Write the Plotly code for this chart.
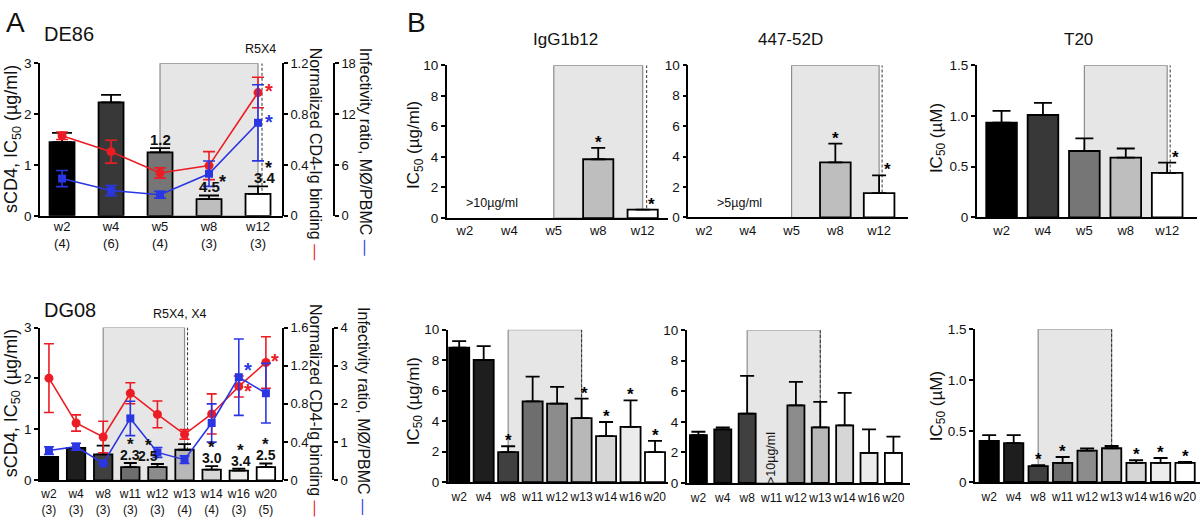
import plotly.graph_objects as go

W, H = 1200, 522
FONT = "Liberation Sans, Arial, Helvetica, sans-serif"
RED = "#ec1c24"
BLUE = "#2b36e3"
SHADE = "#e6e6e6"
SHADE_LINE = "#8c8c8c"

# ---------------- data ----------------
# DE86 (top row)
de86_weeks = ["w2", "w4", "w5", "w8", "w12"]
de86_n = ["(4)", "(6)", "(4)", "(3)", "(3)"]
de86_colors = ["#000000", "#383838", "#767676", "#bebebe", "#ffffff"]
de86_shade = ("w5", "w12")
de86_scd4 = [1.45, 2.23, 1.25, 0.33, 0.43]
de86_scd4_err = [0.18, 0.15, 0.08, 0.07, 0.15]
de86_scd4_fold = ["", "", "1.2", "4.5", "3.4"]
de86_scd4_sig = [False, False, False, True, True]
de86_cd4ig = [0.63, 0.505, 0.337, 0.395, 0.97]
de86_cd4ig_err = [0.03, 0.09, 0.04, 0.11, 0.12]
de86_infect = [4.4, 2.98, 2.49, 4.97, 10.98]
de86_infect_err = [0.95, 0.6, 0.4, 1.5, 4.5]
de86_igg = [None, None, None, 3.85, 0.55]
de86_igg_err = [None, None, None, 0.75, 0.0]
de86_igg_sig = [False, False, False, True, True]
de86_447 = [None, None, None, 3.62, 1.6]
de86_447_err = [None, None, None, 1.23, 1.17]
de86_447_sig = [False, False, False, True, True]
de86_t20 = [0.935, 1.01, 0.655, 0.59, 0.44]
de86_t20_err = [0.115, 0.12, 0.125, 0.09, 0.10]
de86_t20_sig = [False, False, False, False, True]

# DG08 (bottom row)
dg08_weeks = ["w2", "w4", "w8", "w11", "w12", "w13", "w14", "w16", "w20"]
dg08_n = ["(3)", "(3)", "(3)", "(3)", "(3)", "(4)", "(4)", "(3)", "(5)"]
dg08_colors = ["#000000", "#1e1e1e", "#404040", "#6e6e6e", "#8c8c8c",
               "#b8b8b8", "#d6d6d6", "#ececec", "#ffffff"]
dg08_shade = ("w8", "w13")
dg08_scd4 = [0.46, 0.635, 0.51, 0.26, 0.26, 0.60, 0.21, 0.19, 0.26]
dg08_scd4_err = [0, 0, 0.17, 0.08, 0.06, 0.11, 0.07, 0.04, 0.07]
dg08_scd4_fold = ["", "", "", "2.3", "2.5", "", "3.0", "3.4", "2.5"]
dg08_scd4_sig = [False, False, False, True, True, False, True, True, True]
dg08_cd4ig = [1.07, 0.60, 0.454, 0.912, 0.69, 0.481, 0.695, 0.983, 1.234]
dg08_cd4ig_err = [0.36, 0.085, 0.165, 0.11, 0.14, 0.05, 0.21, 0.11, 0.27]
dg08_infect = [0.78, 0.88, 0.44, 1.62, 0.73, 0.54, 1.5, 2.7, 2.28]
dg08_infect_err = [0.1, 0.09, 0.0, 0.45, 0.13, 0.1, 0.5, 1.0, 0.78]
dg08_igg = [8.83, 8.02, 1.97, 5.3, 5.16, 4.2, 3.03, 3.63, 1.97]
dg08_igg_err = [0.42, 0.9, 0.39, 1.62, 1.1, 1.28, 0.92, 1.74, 0.74]
dg08_igg_sig = [False, False, True, False, False, True, True, True, True]
dg08_447 = [3.13, 3.5, 4.53, None, 5.08, 3.64, 3.77, 1.97, 1.97]
dg08_447_err = [0.22, 0.14, 2.47, None, 1.53, 1.66, 2.13, 1.53, 1.06]
dg08_447_sig = [False] * 9
dg08_t20 = [0.403, 0.381, 0.155, 0.188, 0.308, 0.331, 0.188, 0.188, 0.188]
dg08_t20_err = [0.057, 0.079, 0.01, 0.057, 0.022, 0.022, 0.025, 0.047, 0.009]
dg08_t20_sig = [False, False, True, True, False, False, True, True, True]

# ---------------- helpers ----------------
layout = {}
traces = []
annotations = []
shapes = []

XSTYLE = dict(showline=True, linecolor="black", linewidth=1.6, ticks="",
              showgrid=False, zeroline=False, fixedrange=True, tickangle=0)
YSTYLE = dict(showline=True, linecolor="black", linewidth=1.6, ticks="outside",
              ticklen=4, tickwidth=1.6, tickcolor="black", showgrid=False,
              zeroline=False, fixedrange=True,
              tickfont=dict(size=13.5, color="#111", family=FONT))
YSTYLE_R = dict(YSTYLE, tickfont=dict(size=13, color="#111", family=FONT))


def nm(i):
    return "" if i == 1 else str(i)


def txt(x, y, text, size=13, xref="paper", yref="paper", angle=0,
        xanchor="center", yanchor="middle", dx=0, dy=0, color="#111"):
    if xref == "paper":
        x = x / W
    if yref == "paper":
        y = 1 - y / H
    annotations.append(dict(x=x, y=y, xref=xref, yref=yref, text=text,
                            showarrow=False, textangle=angle, xanchor=xanchor,
                            yanchor=yanchor, xshift=dx, yshift=dy,
                            font=dict(size=size, color=color, family=FONT)))


def bar_panel(xi, yi, xpx, ypx, xr, cats, ticktext, tfs, vals, errs, colors,
              bw, capw, yr, ytv, ytt, shade, dash_dx, sig, star_dy=-6,
              star_dx=None, standoff=0):
    n = len(cats)
    pos = list(range(n))
    xs, ys = "x" + nm(xi), "y" + nm(yi)
    layout["xaxis" + nm(xi)] = dict(domain=[xpx[0] / W, xpx[1] / W], range=xr,
                                    tickvals=pos, ticktext=ticktext, anchor=ys,
                                    tickfont=dict(size=tfs, color="#111", family=FONT),
                                    ticklabelstandoff=standoff, **XSTYLE)
    layout["yaxis" + nm(yi)] = dict(domain=[1 - ypx[1] / H, 1 - ypx[0] / H],
                                    range=yr, tickvals=ytv, ticktext=ytt,
                                    anchor=xs, **YSTYLE)
    traces.append(go.Bar(x=pos, y=vals, width=bw,
                         marker=dict(color=colors, line=dict(color="black", width=1.8)),
                         error_y=dict(type="data", symmetric=False, array=errs,
                                      arrayminus=[0] * n, color="black",
                                      thickness=1.8, width=capw),
                         xaxis=xs, yaxis=ys, hoverinfo="skip"))
    i0, i1 = cats.index(shade[0]), cats.index(shade[1])
    shapes.append(dict(type="rect", xref=xs, yref=ys, x0=i0, x1=i1, y0=0,
                       y1=yr[1], fillcolor=SHADE,
                       line=dict(color=SHADE_LINE, width=1.2), layer="below"))
    shapes.append(dict(type="line", xref=xs, yref=ys, xsizemode="pixel",
                       xanchor=i1, x0=dash_dx, x1=dash_dx, y0=0, y1=yr[1],
                       line=dict(color="#333", width=1, dash="3px,2px"),
                       layer="below"))
    for i in range(n):
        if sig[i] and vals[i] is not None:
            top = vals[i] + (errs[i] or 0)
            dx = 0 if star_dx is None else star_dx.get(cats[i], 0)
            txt(i, top, "<b>*</b>", size=17, xref=xs, yref=ys,
                yanchor="bottom", dx=dx, dy=star_dy, color="black")
    return xs, ys, pos


# ---------------- Panel A, DE86 ----------------
xs, ys, pos = bar_panel(1, 1, (40, 283), (58, 215), [-0.45, 4.51], de86_weeks,
                        [f"{w}<br>{n}" for w, n in zip(de86_weeks, de86_n)], 13,
                        de86_scd4, de86_scd4_err, de86_colors, 0.51, 10,
                        [0, 3], [0, 1, 2, 3], ["0", "1", "2", "3"], de86_shade, 4,
                        [False] * 5, standoff=-2)
layout["yaxis2"] = dict(overlaying="y", side="right", anchor="free",
                        position=283 / W, range=[0, 1.2],
                        tickvals=[0, 0.4, 0.8, 1.2], ticktext=["0", "0.4", "0.8", "1.2"],
                        **YSTYLE_R)
layout["yaxis3"] = dict(overlaying="y", side="right", anchor="free",
                        position=334 / W, range=[0, 18],
                        tickvals=[0, 6, 12, 18], ticktext=["0", "6", "12", "18"],
                        **YSTYLE_R)
traces.append(go.Scatter(x=pos, y=de86_cd4ig, mode="lines+markers",
                         line=dict(color=RED, width=1.6),
                         marker=dict(symbol="circle", size=9, color=RED),
                         error_y=dict(type="data", array=de86_cd4ig_err, color=RED,
                                      thickness=1.6, width=6),
                         xaxis="x", yaxis="y2", cliponaxis=False, hoverinfo="skip"))
traces.append(go.Scatter(x=pos, y=de86_infect, mode="lines+markers",
                         line=dict(color=BLUE, width=1.6),
                         marker=dict(symbol="square", size=8, color=BLUE),
                         error_y=dict(type="data", array=de86_infect_err, color=BLUE,
                                      thickness=1.6, width=6),
                         xaxis="x", yaxis="y3", cliponaxis=False, hoverinfo="skip"))
fold_dx = {"w12": 7}
for i, f in enumerate(de86_scd4_fold):
    top = de86_scd4[i] + de86_scd4_err[i]
    if f:
        txt(i, top, f"<b>{f}</b>", size=15, xref="x", yref="y", yanchor="bottom",
            dx=fold_dx.get(de86_weeks[i], 0), dy=-2)
    if de86_scd4_sig[i]:
        txt(i, top, "<b>*</b>", size=18, xref="x", yref="y", yanchor="bottom",
            dx=13 if de86_weeks[i] == "w8" else 10,
            dy=1 if de86_weeks[i] == "w8" else 6)
txt(4, de86_cd4ig[4], "<b>*</b>", size=20, xref="x", yref="y2", dx=11, dy=2, color=RED)
txt(4, de86_infect[4], "<b>*</b>", size=20, xref="x", yref="y3", dx=11, dy=1, color=BLUE)

# ---------------- Panel A, DG08 ----------------
xs, ys, pos = bar_panel(2, 4, (40, 283), (330, 487.3), [-0.33, 8.63], dg08_weeks,
                        [f"{w}<br>{n}" for w, n in zip(dg08_weeks, dg08_n)], 12,
                        dg08_scd4, dg08_scd4_err, dg08_colors, 0.68, 6.5,
                        [0, 3], [0, 1, 2, 3], ["0", "1", "2", "3"], dg08_shade, 3,
                        [False] * 9, standoff=2)
layout["yaxis5"] = dict(overlaying="y4", side="right", anchor="free",
                        position=283 / W, range=[0, 1.6],
                        tickvals=[0, 0.4, 0.8, 1.2, 1.6],
                        ticktext=["0", "0.4", "0.8", "1.2", "1.6"], **YSTYLE_R)
layout["yaxis6"] = dict(overlaying="y4", side="right", anchor="free",
                        position=333 / W, range=[0, 4],
                        tickvals=[0, 1, 2, 3, 4], ticktext=["0", "1", "2", "3", "4"],
                        **YSTYLE_R)
traces.append(go.Scatter(x=pos, y=dg08_cd4ig, mode="lines+markers",
                         line=dict(color=RED, width=1.6),
                         marker=dict(symbol="circle", size=9, color=RED),
                         error_y=dict(type="data", array=dg08_cd4ig_err, color=RED,
                                      thickness=1.6, width=5),
                         xaxis="x2", yaxis="y5", cliponaxis=False, hoverinfo="skip"))
traces.append(go.Scatter(x=pos, y=dg08_infect, mode="lines+markers",
                         line=dict(color=BLUE, width=1.6),
                         marker=dict(symbol="square", size=8, color=BLUE),
                         error_y=dict(type="data", array=dg08_infect_err, color=BLUE,
                                      thickness=1.6, width=5),
                         xaxis="x2", yaxis="y6", cliponaxis=False, hoverinfo="skip"))
fold_dx2 = {"w12": -9, "w16": 2}
for i, f in enumerate(dg08_scd4_fold):
    top = dg08_scd4[i] + dg08_scd4_err[i]
    dx = fold_dx2.get(dg08_weeks[i], 0)
    if f:
        txt(i, top, f"<b>{f}</b>", size=14, xref="x2", yref="y4", yanchor="bottom",
            dx=dx, dy=-2)
    if dg08_scd4_sig[i]:
        txt(i, top, "<b>*</b>", size=17, xref="x2", yref="y4", yanchor="bottom",
            dx=dx, dy=7)
txt(7, dg08_infect[7], "<b>*</b>", size=20, xref="x2", yref="y6", dx=9, dy=7, color=BLUE)
txt(7, dg08_cd4ig[7], "<b>*</b>", size=20, xref="x2", yref="y5", dx=9, dy=-5, color=RED)
txt(8, dg08_cd4ig[8], "<b>*</b>", size=20, xref="x2", yref="y5", dx=9, dy=1, color=RED)

# ---------------- Panel B, DE86 ----------------
B10 = dict(yr=[0, 10], ytv=[0, 2, 4, 6, 8, 10], ytt=["0", "2", "4", "6", "8", "10"])
BT = dict(yr=[0, 1.5], ytv=[0, 0.5, 1.0, 1.5], ytt=["0", "0.5", "1.0", "1.5"])
bar_panel(3, 7, (446.7, 668), (60, 217.3), [-0.41, 4.57], de86_weeks, de86_weeks, 13,
          de86_igg, de86_igg_err, de86_colors, 0.68, 7, **B10, shade=de86_shade,
          dash_dx=4, sig=de86_igg_sig, star_dy=-6, star_dx={"w12": 9})
bar_panel(4, 8, (688.3, 908), (60, 216.7), [-0.36, 4.66], de86_weeks, de86_weeks, 13,
          de86_447, de86_447_err, de86_colors, 0.7, 7, **B10, shade=de86_shade,
          dash_dx=3, sig=de86_447_sig, star_dy=-6, star_dx={"w12": 8})
bar_panel(5, 9, (976.7, 1197), (60, 216.7), [-0.6, 4.72], de86_weeks, de86_weeks, 13,
          de86_t20, de86_t20_err, de86_colors, 0.74, 9, **BT, shade=de86_shade,
          dash_dx=3, sig=de86_t20_sig, star_dy=-6, star_dx={"w12": 8})
txt(0.62, 1.0, "&gt;10µg/ml", size=12.5, xref="x3", yref="y7")
txt(0.82, 0.92, "&gt;5µg/ml", size=12.5, xref="x4", yref="y8")

# ---------------- Panel B, DG08 ----------------
bar_panel(6, 10, (447.7, 668), (332.3, 489.3), [-0.47, 8.53], dg08_weeks, dg08_weeks, 12,
          dg08_igg, dg08_igg_err, dg08_colors, 0.82, 7, **B10, shade=dg08_shade,
          dash_dx=0, sig=dg08_igg_sig, star_dy=-6, star_dx={"w13": 3}, standoff=3)
bar_panel(7, 11, (686.7, 910), (332.7, 490), [-0.48, 8.68], dg08_weeks, dg08_weeks, 12,
          dg08_447, dg08_447_err, dg08_colors, 0.7, 7, **B10, shade=dg08_shade,
          dash_dx=0, sig=dg08_447_sig, standoff=3)
bar_panel(8, 12, (975, 1200), (331.7, 489), [-0.58, 8.61], dg08_weeks, dg08_weeks, 12,
          dg08_t20, dg08_t20_err, dg08_colors, 0.79, 7, **BT, shade=dg08_shade,
          dash_dx=0, sig=dg08_t20_sig, star_dy=-6, standoff=3)
txt(3, 1.6, "&gt;10µg/ml", size=12.5, xref="x7", yref="y11", angle=-90)

# ---------------- titles / labels ----------------
txt(15, 16, "A", size=28)
txt(417, 16, "B", size=28)
txt(42, 28, "DE86", size=20, xanchor="left")
txt(42, 312, "DG08", size=20, xanchor="left")
txt(260, 43, "R5X4", size=12.5)
txt(180, 316, "R5X4, X4", size=12.5)

txt(12, 136, "sCD4, IC<sub>50</sub> (µg/ml)", size=18, angle=-90)
txt(12, 408, "sCD4, IC<sub>50</sub> (µg/ml)", size=18, angle=-90)
txt(315, 151, f"Normalized CD4-Ig binding <span style='color:{RED}'>—</span>", size=16, angle=90)
txt(365, 149, f"Infectivity ratio, MØ/PBMC <span style='color:{BLUE}'>—</span>", size=16, angle=90)
txt(316, 416, f"Normalized CD4-Ig binding <span style='color:{RED}'>—</span>", size=16, angle=90)
txt(364, 416, f"Infectivity ratio, MØ/PBMC <span style='color:{BLUE}'>—</span>", size=16, angle=90)

txt(565, 33, "IgG1b12", size=17)
txt(790, 33, "447-52D", size=17)
txt(1078, 33, "T20", size=17)
txt(415, 142, "IC<sub>50</sub> (µg/ml)", size=17, angle=-90)
txt(938, 135, "IC<sub>50</sub> (µM)", size=17, angle=-90)
txt(415, 406, "IC<sub>50</sub> (µg/ml)", size=17, angle=-90)
txt(938, 411, "IC<sub>50</sub> (µM)", size=17, angle=-90)

fig = go.Figure(data=traces)
fig.update_layout(width=W, height=H, autosize=False,
                  margin=dict(l=0, r=0, t=0, b=0),
                  paper_bgcolor="white", plot_bgcolor="rgba(0,0,0,0)",
                  showlegend=False, barmode="overlay",
                  font=dict(family=FONT, size=13, color="#111"),
                  annotations=annotations, shapes=shapes, **layout)
fig.write_html("out.html", config={"displayModeBar": False},
               post_script="document.body.style.margin='0';document.body.style.overflow='hidden';")
